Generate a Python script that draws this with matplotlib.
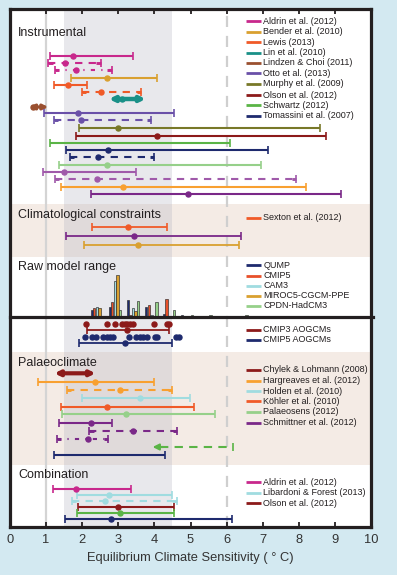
import numpy as np
import matplotlib.pyplot as plt

plt.rcParams['font.family'] = ['Liberation Sans', 'DejaVu Sans']
nan = np.nan

# ---------------- DATA ----------------
# Instrumental
inst_lo = [1.12, 1.06, 1.25, 1.70, 1.21, 1.99, 2.74, 0.53, 0.93, 1.22,
           1.91, 1.83, 1.10, 1.55, 1.65, 1.35, 0.91, 1.24, 1.42, 2.23]
inst_best = [1.75, 1.52, 1.83, 2.70, 1.62, 2.51, 3.09, 0.65, 1.87, 1.98,
             2.99, 4.08, nan, 2.71, 2.44, 2.68, 1.50, 2.40, 3.14, 4.94]
inst_hi = [3.42, 2.51, 2.82, 4.07, 2.13, 3.64, 3.76, 1.06, 4.55, 3.91,
           8.59, 8.75, 6.09, 7.16, 3.99, 6.95, 3.50, 7.92, 8.20, 9.16]
inst_legend = ["Aldrin et al. (2012)", "Bender et al. (2010)", "Lewis (2013)",
               "Lin et al. (2010)", "Lindzen & Choi (2011)", "Otto et al. (2013)",
               "Murphy et al. (2009)", "Olson et al. (2012)", "Schwartz (2012)",
               "Tomassini et al. (2007)"]

# Climatological constraints
clim_lo = [2.28, 1.54, 2.05]
clim_best = [3.27, 3.43, 3.54]
clim_hi = [4.35, 6.40, 6.35]
clim_legend = ["Sexton et al. (2012)"]

# Raw model range histogram (bins starting at these values)
hist_bins = [1.73, 2.23, 2.73, 3.23, 3.74, 4.23, 4.73, 5.23, 5.73, 6.23]
hist_qump = [0.010, 0.067, 0.097, 0.167, 0.100, 0.027, 0.015, 0.0, 0.0, 0.0]
hist_cmip5 = [0.0, 0.083, 0.147, 0.017, 0.117, 0.180, 0.0, 0.0, 0.0, 0.0]
hist_cam3 = [0.0, 0.093, 0.357, 0.090, 0.017, 0.0, 0.0, 0.0, 0.0, 0.0]
hist_miroc = [0.0, 0.087, 0.420, 0.060, 0.0, 0.0, 0.0, 0.0, 0.0, 0.0]
hist_cpdn = [0.0, 0.007, 0.063, 0.157, 0.147, 0.063, 0.015, 0.015, 0.0, 0.015]
raw_legend = ["QUMP", "CMIP5", "CAM3", "MIROC5-CGCM-PPE", "CPDN-HadCM3"]

# AOGCMs
cmip3_models = [2.10, 2.69, 2.90, 3.10, 3.18, 3.25, 3.32, 3.41, 3.99, 4.34, 4.41]
cmip3_range = [2.13, 3.25, 4.40]
cmip5_models = [2.09, 2.28, 2.38, 2.58, 2.68, 2.77, 2.86, 3.29, 3.49, 3.60,
                3.69, 3.80, 4.01, 4.08, 4.60, 4.69]
cmip5_range = [1.90, 3.19, 4.50]
aogcm_legend = ["CMIP3 AOGCMs", "CMIP5 AOGCMs"]

# Palaeoclimate
pal_lo = [1.23, 0.78, 1.58, 1.99, 1.41, 1.44, 1.35, 2.20, 1.30, 3.95, 1.21]
pal_best = [nan, 2.35, 3.05, 3.60, 2.69, 3.22, 2.23, 3.40, 2.17, nan, nan]
pal_hi = [2.37, 3.99, 4.49, 4.98, 5.10, 5.68, 2.83, 4.63, 2.72, 6.19, 4.29]
pal_legend = ["Chylek & Lohmann (2008)", "Hargreaves et al. (2012)",
              "Holden et al. (2010)", "Köhler et al. (2010)",
              "Palaeosens (2012)", "Schmittner et al. (2012)"]

# Combination
comb_lo = [1.19, 1.86, 1.72, 1.88, 1.86, 1.51]
comb_best = [1.83, 2.74, 2.62, 3.00, 3.04, 2.80]
comb_hi = [3.36, 4.49, 4.62, 4.55, 4.53, 6.14]
comb_legend = ["Aldrin et al. (2012)", "Libardoni & Forest (2013)", "Olson et al. (2012)"]

xticks = list(range(0, 11))
xlabel = "Equilibrium Climate Sensitivity ( ° C)"
sections = ["Instrumental", "Climatological constraints", "Raw model range",
            "Palaeoclimate", "Combination"]

# ---------------- STYLE / LAYOUT ----------------
MAG = '#c8288c'; GOLD = '#d9a030'; ORR = '#f05a28'; TEAL = '#1a9088'
BRN = '#9a5030'; OTTO = '#6a50a8'; OLIVE = '#787828'; DRED = '#8c1a1a'
GRN = '#5ab446'; NAVY = '#1e2a6e'; LGRN = '#96d08a'; VIO = '#a05aaa'
ORA = '#f8a030'; PUR = '#7a2888'; LCY = '#a0dce0'
TXT = '#231f20'

inst_y = [56, 63, 70, 78, 85, 92, 99, 107, 113, 120, 128, 135.7, 143, 150,
          157, 164.7, 172, 179, 186.7, 194]
inst_col = [MAG, MAG, MAG, GOLD, ORR, ORR, TEAL, BRN, OTTO, OTTO, OLIVE, DRED,
            GRN, NAVY, NAVY, LGRN, VIO, VIO, ORA, PUR]
inst_sty = ['solid', 'dashed', 'dashdot', 'solid', 'solid', 'dashed', 'arrow',
            'arrow', 'solid', 'dashed', 'solid', 'solid', 'solid', 'solid',
            'dashed', 'solid', 'solid', 'dashed', 'solid', 'solid']
inst_leg_col = [MAG, GOLD, ORR, TEAL, BRN, OTTO, OLIVE, DRED, GRN, NAVY]
inst_leg_y = [21, 32, 42.3, 52.7, 62.7, 73.3, 84, 95, 105.3, 116]

clim_y = [227, 236, 245]
clim_col = [ORR, PUR, GOLD]
clim_leg_y = [217.7]

hist_base = 316.7
HIST_PX = 100.0
hist_col = [NAVY, '#e8502a', LCY, GOLD, LGRN]
raw_leg_y = [265, 275.7, 285.7, 296, 306]

pal_y = [373.3, 381.7, 390, 398, 406.7, 414.3, 422.7, 430.7, 439, 447, 454.7]
pal_col = [DRED, ORA, ORA, LCY, ORR, LGRN, PUR, PUR, PUR, GRN, NAVY]
pal_sty = ['arrow', 'solid', 'dashed', 'solid', 'solid', 'solid', 'solid',
           'dashed', 'dashdot', 'larrow', 'solid']
pal_leg_col = [DRED, ORA, LCY, ORR, LGRN, PUR]
pal_leg_y = [370, 380.7, 391, 401.3, 412, 422.7]

comb_y = [489.3, 495.3, 501.3, 506.7, 512.7, 519]
comb_col = [MAG, LCY, LCY, DRED, GRN, NAVY]
comb_sty = ['solid', 'solid', 'dashed', 'solid', 'solid', 'solid']
comb_leg_col = [MAG, LCY, DRED]
comb_leg_y = [482.3, 492.7, 503.3]

LW = 1.5
MS = 3.6
fig = plt.figure(figsize=(3.97, 5.75), dpi=100, facecolor='#d3e9f1')
ax = fig.add_axes([10 / 397, 1 - 527 / 575, 361 / 397, 518 / 575])
ax.set_facecolor('white')
ax.set_xlim(0, 10)
ax.set_ylim(527, 9)

# backgrounds
ax.axhspan(204, 257, color='#f4ebe5', lw=0, zorder=0)
ax.axhspan(352, 465, color='#f4ebe5', lw=0, zorder=0)
ax.axvspan(1.5, 4.5, color='#b8b8c4', alpha=0.32, lw=0, zorder=0.5)
ax.axvline(1, color='#d4d4d4', lw=1.6, zorder=0.6)
ax.axvline(6, color='#cfcfcf', lw=1.6, ls=(0, (5, 4)), zorder=0.6)


def draw_row(lo, best, hi, y, c, sty, lw=LW):
    if sty == 'arrow':
        ax.annotate('', xy=(hi, y), xytext=(lo, y),
                    arrowprops=dict(arrowstyle='<|-|>', color=c, lw=lw + 0.8,
                                    mutation_scale=7, shrinkA=0, shrinkB=0),
                    zorder=3)
    elif sty == 'larrow':
        ax.plot([lo + 0.2, hi], [y, y], color=c, lw=lw, ls=(0, (4, 3)), zorder=3)
        ax.annotate('', xy=(lo, y), xytext=(lo + 0.3, y),
                    arrowprops=dict(arrowstyle='-|>', color=c, lw=lw,
                                    mutation_scale=9, shrinkA=0, shrinkB=0),
                    zorder=3)
        ax.plot([hi], [y], marker='|', color=c, ms=6, mew=1.2, ls='none', zorder=3)
    else:
        ls = {'solid': '-', 'dashed': (0, (3.5, 3)), 'dashdot': (0, (2, 3, 0.6, 3))}[sty]
        ax.plot([lo, hi], [y, y], color=c, lw=lw, ls=ls, zorder=3,
                solid_capstyle='butt', dash_capstyle='butt')
        if sty != 'solid':
            d = 0.12
            ax.plot([lo, lo + d], [y, y], color=c, lw=lw + 0.6, zorder=3,
                    solid_capstyle='butt')
            ax.plot([hi - d, hi], [y, y], color=c, lw=lw + 0.6, zorder=3,
                    solid_capstyle='butt')
        ax.plot([lo, hi], [y, y], marker='|', color=c, ms=6, mew=1.2,
                ls='none', zorder=3)
    if not np.isnan(best):
        ax.plot([best], [y], 'o', color=c, ms=MS, mec=c, zorder=4)


def legend(labels, cols, ys):
    for lab, c, y in zip(labels, cols, ys):
        ax.plot([6.53, 6.95], [y, y], color=c, lw=2.0, solid_capstyle='butt', zorder=5)
        ax.text(7.02, y, lab, fontsize=6.5, color=TXT, va='center', ha='left', zorder=5)


for lo, b, hi, y, c, s in zip(inst_lo, inst_best, inst_hi, inst_y, inst_col, inst_sty):
    lw = 2.4 if c == TEAL else LW
    draw_row(lo, b, hi, y, c, s, lw)
legend(inst_legend, inst_leg_col, inst_leg_y)

for lo, b, hi, y, c in zip(clim_lo, clim_best, clim_hi, clim_y, clim_col):
    draw_row(lo, b, hi, y, c, 'solid', 1.3)
legend(clim_legend, [ORR], clim_leg_y)

# histogram
offs = [0, 0.072, 0.144, 0.216, 0.288]
for series, c, o in zip([hist_qump, hist_cmip5, hist_cam3, hist_miroc, hist_cpdn],
                        hist_col, offs):
    xs = [b + o for b in hist_bins]
    hs = [-v * HIST_PX for v in series]
    ax.bar(xs, hs, width=0.064, bottom=hist_base, align='edge', color=c,
           edgecolor='#2a2a2a', linewidth=0.45, zorder=3)
legend(raw_legend, hist_col, raw_leg_y)

# AOGCMs
ax.plot(cmip3_models, [324.3] * len(cmip3_models), 'o', color=DRED, ms=MS, zorder=4)
draw_row(cmip3_range[0], cmip3_range[1], cmip3_range[2], 330.3, DRED, 'solid', 1.3)
ax.plot(cmip5_models, [336.7] * len(cmip5_models), 'o', color=NAVY, ms=MS, zorder=4)
draw_row(cmip5_range[0], cmip5_range[1], cmip5_range[2], 343.3, NAVY, 'solid', 1.3)
legend(aogcm_legend, [DRED, NAVY], [330, 340])

for lo, b, hi, y, c, s in zip(pal_lo, pal_best, pal_hi, pal_y, pal_col, pal_sty):
    lw = 2.2 if s == 'arrow' else LW
    draw_row(lo, b, hi, y, c, s, lw)
legend(pal_legend, pal_leg_col, pal_leg_y)

for lo, b, hi, y, c, s in zip(comb_lo, comb_best, comb_hi, comb_y, comb_col, comb_sty):
    draw_row(lo, b, hi, y, c, s)
legend(comb_legend, comb_leg_col, comb_leg_y)

# section titles
for lab, y in zip(sections, [33, 215, 267, 363, 475.5]):
    ax.text(0.23, y, lab, fontsize=9, color=TXT, va='center', ha='left', zorder=6)

# divider
ax.plot([0, 10.05], [hist_base, hist_base], color=TXT, lw=2.3, clip_on=False, zorder=6)

# axes style
for sp in ax.spines.values():
    sp.set_linewidth(2.3)
    sp.set_color(TXT)
ax.set_yticks([])
ax.set_xticks(xticks)
ax.tick_params(axis='x', direction='in', top=True, bottom=True, length=3.5,
               width=1.3, labelsize=9.3, labelcolor='#333333', color=TXT, pad=5)
ax.set_xlabel(xlabel, fontsize=9.3, color='#333333', labelpad=4)

fig.savefig('out.png', dpi=100, facecolor=fig.get_facecolor())
